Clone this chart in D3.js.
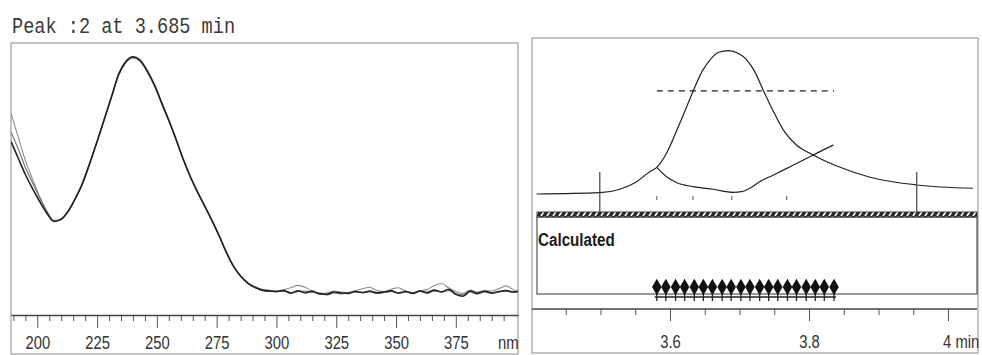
<!DOCTYPE html>
<html>
<head>
<meta charset="utf-8">
<script src="https://cdn.jsdelivr.net/npm/d3@7"></script>
<style>
body{margin:0;background:#fff;}
</style>
</head>
<body>
<script>
//spectrum panel: wavelength grid (nm) and the three overlaid absorbance traces (peak max = 1)
const wavelengths = [189,192,195,198,201,204,207,210,213,216,219,222,225,228,231,234,237,240,243,246,249,252,255,258,261,264,267,270,273,276,279,282,285,288,291,294,297,
  300,303,306,309,312,315,318,321,324,327,330,333,336,339,342,345,348,351,354,357,360,363,366,369,372,375,378,381,384,387,390,393,396,399,401];
const absMain = [0.64,0.57,0.50,0.44,0.385,0.335,0.30,0.31,0.345,0.40,0.465,0.55,0.64,0.735,0.83,0.925,0.98,1.0,0.985,0.94,0.88,0.805,0.73,0.65,0.565,0.49,0.425,0.365,0.305,0.24,0.17,0.11,0.068,0.038,0.02,0.008,0.004,
  0.002,0.006,-0.004,0.005,-0.003,0.004,-0.008,-0.01,0.0,-0.004,-0.006,0.002,-0.002,0.004,-0.003,0.0,0.005,-0.004,0.002,-0.006,0.004,-0.002,0.008,0.0,0.012,-0.01,-0.018,0.004,-0.006,0.003,-0.004,0.002,0.006,0.0,0.002];
const absGreyA = [0.76,0.66,0.56,0.48,0.405,0.345,0.305,0.312,0.348,0.402,0.468,0.552,0.642,0.737,0.832,0.922,0.975,0.995,0.98,0.935,0.875,0.80,0.727,0.648,0.566,0.492,0.428,0.368,0.306,0.242,0.172,0.112,0.07,0.04,0.022,0.012,0.008,
  0.004,0.01,0.018,0.028,0.02,0.002,-0.006,-0.004,0.004,0.0,-0.002,0.006,0.014,0.02,0.006,0.002,0.012,0.018,0.004,-0.002,0.006,0.01,0.028,0.036,0.018,0.002,-0.006,0.008,0.0,0.006,0.004,0.014,0.026,0.01,0.004];
const absGreyB = [0.68,0.61,0.53,0.465,0.40,0.342,0.302,0.308,0.343,0.398,0.462,0.548,0.638,0.733,0.828,0.928,0.982,1.002,0.988,0.943,0.882,0.807,0.732,0.652,0.567,0.491,0.426,0.366,0.304,0.239,0.169,0.109,0.066,0.036,0.018,0.006,0.002,
  0.0,0.004,-0.006,0.002,0.004,-0.002,-0.004,-0.012,-0.004,-0.008,-0.002,0.0,-0.004,0.0,-0.006,-0.002,0.002,-0.006,0.0,-0.004,0.002,-0.006,0.004,0.002,0.006,-0.006,-0.012,0.0,-0.008,0.0,-0.006,0.0,0.004,-0.002,0.0];
const nmTicks = [200,225,250,275,300,325,350,375,400];
const nmLabels = ["200","225","250","275","300","325","350","375","nm"];
const nmMinor = [190,195,205,210,215,220,230,235,240,245,255,260,265,270,280,285,290,295,305,310,315,320,330,335,340,345,355,360,365,370,380,385,390,395];

//chromatogram panel: retention time (min) and signal (peak max = 100)
const times = [3.408,3.499,3.528,3.552,3.571,3.581,3.595,3.610,3.624,3.634,3.646,3.658,3.670,3.684,3.698,3.710,3.722,3.734,3.749,3.763,3.782,3.806,3.840,3.888,3.955,4.036];
const signal = [0,0.9,3.3,8.6,15.6,18.6,28.4,44.7,60.9,72.6,85.4,93.8,98.9,100,98.2,93.8,85.4,72.6,57.4,44.7,34.2,27.2,19.5,11.7,6.3,4.0];
const purityTimes = [3.581,3.595,3.610,3.634,3.662,3.691,3.703,3.715,3.729,3.749,3.768,3.792,3.806,3.835];
const purity = [18.6,12.1,7.9,5.1,3.3,1.2,1.6,4.0,8.6,13.3,17.9,23.7,27.2,34.2];
const thresholdLevel = 71.9;
const thresholdRange = [3.581,3.836];
const integrationMarks = [3.499,3.955];
const sliceMarks = [3.581,3.633,3.689,3.768];
const calcTimes = [3.581,3.594,3.608,3.621,3.635,3.648,3.661,3.675,3.688,3.702,3.715,3.729,3.742,3.755,3.769,3.782,3.796,3.809,3.822,3.836];
const minTicks = [3.6,3.8,4.0];
const minLabels = ["3.6","3.8","4 min"];
const minMinor = [3.45,3.5,3.55,3.65,3.7,3.75,3.85,3.9,3.95];

function viz(){
  const width = 982, height = 355;
  const ink = "#222", frame = "#8a8a8a";
  const labelFont = "'Liberation Sans Narrow','Liberation Sans',Arial,sans-serif";

  const svg = d3.select("body").append("svg")
               .attr("width",width).attr("height",height)
               .attr("viewBox",[0,0,width,height]);
  const defs = svg.append("defs");

  //clip regions for the two plot areas
  defs.append("clipPath").attr("id","clipSpec")
      .append("rect").attr("x",11).attr("y",43).attr("width",507).attr("height",272);
  defs.append("clipPath").attr("id","clipChrom")
      .append("rect").attr("x",533).attr("y",39).attr("width",444).attr("height",172);

  //hatch pattern for the band above the "Calculated" box
  const pat = defs.append("pattern").attr("id","hatch")
                  .attr("patternUnits","userSpaceOnUse").attr("width",6).attr("height",6);
  pat.append("rect").attr("width",6).attr("height",6).attr("fill","#2a2a2a");
  pat.append("path").attr("d","M1,6 L5,0").attr("stroke","#fff").attr("stroke-width",1.6);

  //title
  svg.append("text").attr("transform","translate(12,33) scale(0.845,1)")
     .style("font-family","'Liberation Mono','DejaVu Sans Mono',monospace")
     .style("font-size","22px").attr("fill","#3a3a3a")
     .text("Peak :2 at 3.685 min");

  // ---------- left panel: UV spectrum ----------
  const x = d3.scaleLinear().domain([189,401]).range([11,518]);
  const y = d3.scaleLinear().domain([0,1]).range([292,57]);

  svg.append("rect").attr("x",11).attr("y",43).attr("width",507).attr("height",311)
     .attr("fill","none").attr("stroke",frame).attr("stroke-width",1);

  const spec = wavelengths.map((w,i)=>({w:w,a:absMain[i],ga:absGreyA[i],gb:absGreyB[i]}));
  const specLine = key => d3.line().x(d=>x(d.w)).y(d=>y(d[key])).curve(d3.curveMonotoneX);

  const specG = svg.append("g").attr("clip-path","url(#clipSpec)");
  specG.append("path").datum(spec).attr("d",specLine("ga"))
       .attr("fill","none").attr("stroke","#8c8c8c").attr("stroke-width",1.1);
  specG.append("path").datum(spec).attr("d",specLine("gb"))
       .attr("fill","none").attr("stroke","#6e6e6e").attr("stroke-width",1.1);
  specG.append("path").datum(spec).attr("d",specLine("a"))
       .attr("fill","none").attr("stroke",ink).attr("stroke-width",1.6);

  //wavelength axis, minor then major ticks
  svg.append("g").attr("transform","translate(0,315)")
     .call(d3.axisBottom(x).tickValues(nmMinor).tickFormat("").tickSize(6).tickSizeOuter(0))
     .call(g=>g.select(".domain").remove())
     .call(g=>g.selectAll("line").attr("stroke","#555"));
  const nmAxis = svg.append("g").attr("transform","translate(0,315)")
     .call(d3.axisBottom(x).tickValues(nmTicks).tickFormat(d=>nmLabels[nmTicks.indexOf(d)]).tickSize(13).tickSizeOuter(0));
  nmAxis.select(".domain").attr("stroke","#444").attr("stroke-width",1.3);
  nmAxis.selectAll("line").attr("stroke","#555");
  nmAxis.selectAll("text").attr("y",21).attr("fill","#333")
        .style("font-family",labelFont).style("font-size","19px")
        .attr("transform","scale(0.78,1)");
  nmAxis.selectAll("text").filter(d=>d===400).attr("text-anchor","end").attr("x",3);
  nmAxis.selectAll(".tick").filter(d=>d===400).select("line").remove();

  // ---------- right panel: chromatogram ----------
  const t = d3.scaleLinear().domain([3.6,4.0]).range([670,948]);
  const s = d3.scaleLinear().domain([0,100]).range([194,50.7]);

  svg.append("rect").attr("x",532).attr("y",38).attr("width",446).attr("height",315)
     .attr("fill","none").attr("stroke",frame).attr("stroke-width",1);

  const chromG = svg.append("g").attr("clip-path","url(#clipChrom)");
  chromG.append("path").datum(times.map((d,i)=>[d,signal[i]]))
        .attr("d",d3.line().x(d=>t(d[0])).y(d=>s(d[1])).curve(d3.curveMonotoneX))
        .attr("fill","none").attr("stroke",ink).attr("stroke-width",1.2);
  chromG.append("path").datum(purityTimes.map((d,i)=>[d,purity[i]]))
        .attr("d",d3.line().x(d=>t(d[0])).y(d=>s(d[1])).curve(d3.curveMonotoneX))
        .attr("fill","none").attr("stroke",ink).attr("stroke-width",1.2);

  //threshold (dashed) line
  svg.append("line").attr("x1",t(thresholdRange[0])).attr("x2",t(thresholdRange[1]))
     .attr("y1",s(thresholdLevel)).attr("y2",s(thresholdLevel))
     .attr("stroke",ink).attr("stroke-width",1.2).attr("stroke-dasharray","6,5");

  //integration start/end marks
  svg.append("g").selectAll("line").data(integrationMarks).join("line")
     .attr("x1",d=>t(d)).attr("x2",d=>t(d)).attr("y1",172).attr("y2",212)
     .attr("stroke","#444").attr("stroke-width",1.2);

  //small spectrum-slice ticks under the peak
  svg.append("g").selectAll("line").data(sliceMarks).join("line")
     .attr("x1",d=>t(d)).attr("x2",d=>t(d)).attr("y1",196).attr("y2",200)
     .attr("stroke","#555").attr("stroke-width",1);

  //hatched band and "Calculated" box
  svg.append("rect").attr("x",537).attr("y",212).attr("width",440).attr("height",5)
     .attr("fill","url(#hatch)").attr("stroke","#222").attr("stroke-width",0.8);
  svg.append("rect").attr("x",537).attr("y",217).attr("width",440).attr("height",77)
     .attr("fill","none").attr("stroke","#444").attr("stroke-width",1.1);
  svg.append("text").attr("transform","translate(538,246) scale(0.8,1)")
     .style("font-family","'Liberation Sans',Arial,sans-serif").style("font-weight","bold")
     .style("font-size","19px").attr("fill","#1a1a1a").text("Calculated");

  //calculated points: diamonds on stems
  const calc = svg.append("g");
  calc.append("line").attr("x1",t(calcTimes[0])-2).attr("x2",t(calcTimes[calcTimes.length-1])+2)
      .attr("y1",297).attr("y2",297).attr("stroke","#222").attr("stroke-width",1.4);
  calc.selectAll("line.stem").data(calcTimes).join("line").attr("class","stem")
      .attr("x1",d=>t(d)).attr("x2",d=>t(d)).attr("y1",287).attr("y2",301)
      .attr("stroke","#222").attr("stroke-width",1.3);
  calc.selectAll("path").data(calcTimes).join("path")
      .attr("d",d3.symbol(d3.symbolDiamond,78))
      .attr("transform",d=>`translate(${t(d)},287)`)
      .attr("fill","#111");

  //time axis
  svg.append("g").attr("transform","translate(0,309)")
     .call(d3.axisBottom(t).tickValues(minMinor).tickFormat("").tickSize(6).tickSizeOuter(0))
     .call(g=>g.select(".domain").remove())
     .call(g=>g.selectAll("line").attr("stroke","#555"));
  const minAxis = svg.append("g").attr("transform","translate(0,309)")
     .call(d3.axisBottom(t).tickValues(minTicks).tickFormat(d=>minLabels[minTicks.indexOf(d)]).tickSize(12).tickSizeOuter(0));
  minAxis.select(".domain").attr("d","M532,0H977").attr("stroke","#444").attr("stroke-width",1.3);
  minAxis.selectAll("line").attr("stroke","#555");
  minAxis.selectAll("text").attr("y",26).attr("fill","#333")
         .style("font-family",labelFont).style("font-size","19px")
         .attr("transform","scale(0.78,1)");
  minAxis.selectAll("text").filter(d=>d===4.0).attr("text-anchor","start").attr("x",-7);
}
viz();
</script>
</body>
</html>
